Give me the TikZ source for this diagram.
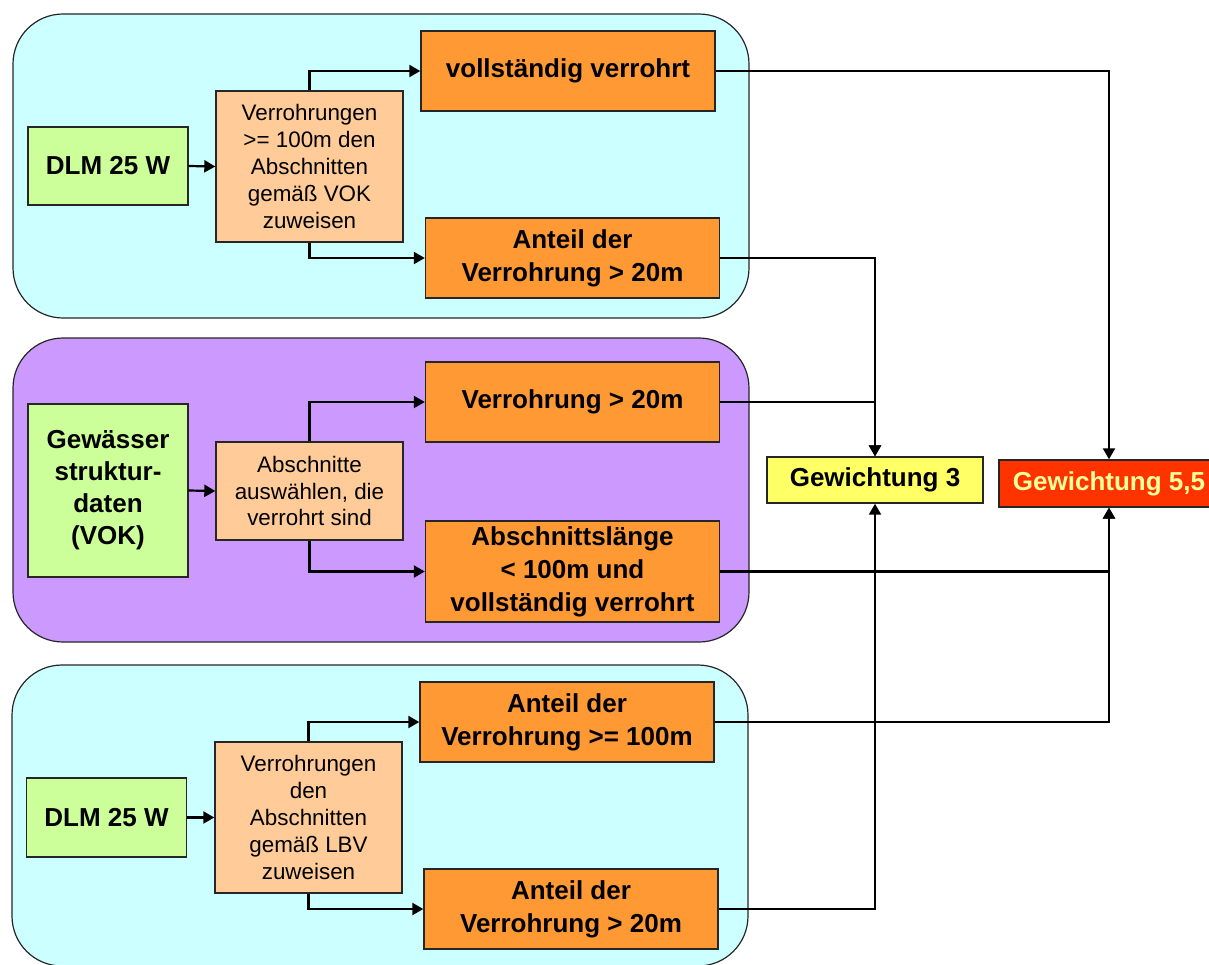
\documentclass[tikz,border=0pt]{standalone}
\usepackage{fontspec}
\setmainfont{Liberation Sans}
\usetikzlibrary{arrows.meta}
\definecolor{panelCyan}{HTML}{CCFFFF}
\definecolor{panelLila}{HTML}{CC99FF}
\definecolor{srcGreen}{HTML}{CCFF99}
\definecolor{stepPeach}{HTML}{FFCC99}
\definecolor{resOrange}{HTML}{FF9933}
\definecolor{wgtYellow}{HTML}{FFFF66}
\definecolor{wgtRed}{HTML}{FF3300}
\definecolor{wgtRedTxt}{HTML}{FFFF99}

\begin{document}
\begin{tikzpicture}[
  x=0.5pt, y=-0.5pt,
  panel/.style={draw=black!85, line width=0.6pt, rounded corners=25pt},
  src/.style={draw=black!85, fill=srcGreen, line width=0.7pt, inner sep=0pt,
              minimum width=80pt, align=center,
              font=\fontsize{13}{16}\selectfont\bfseries},
  job/.style={draw=black!85, fill=stepPeach, line width=0.7pt, inner sep=0pt,
              minimum width=93.5pt, align=center,
              font=\fontsize{11.2}{13.4}\selectfont},
  res/.style={draw=black!85, fill=resOrange, line width=0.7pt, inner sep=0pt,
              minimum width=147pt, minimum height=40pt, align=center,
              font=\fontsize{13}{16.5}\selectfont\bfseries},
  wgt/.style={draw=black!85, line width=0.7pt, inner sep=0pt,
              minimum height=23pt, font=\fontsize{13}{16}\selectfont\bfseries},
  arr/.style={-{Triangle[length=5.5pt,width=6pt]}, line width=1.1pt}
]
  \useasboundingbox (0,0) rectangle (1209,964);

  % Panels
  \draw[panel, fill=panelCyan] (13,14) rectangle (749,318);
  \draw[panel, fill=panelLila] (13,338) rectangle (749,642);
  \draw[panel, fill=panelCyan] (12,665) rectangle (748,966);

  % Panel 1: DLM 25 W / VOK
  \node[src, minimum height=39pt] (g1) at (108,166) {DLM 25 W};
  \node[job, minimum height=75.5pt] (p1) at (309.5,166.5)
    {Verrohrungen\\>= 100m den\\Abschnitten\\gemäß VOK\\zuweisen};
  \node[res] (o1) at (568,71) {vollständig verrohrt};
  \node[res] (o2) at (572.5,258) {Anteil der\\Verrohrung > 20m};

  % Panel 2: Gewaesserstrukturdaten
  \node[src, minimum height=86.5pt] (g2) at (108,490.5)
    {Gewässer\\struktur-\\daten\\(VOK)};
  \node[job, minimum height=49pt] (p2) at (309.5,491)
    {Abschnitte\\auswählen, die\\verrohrt sind};
  \node[res] (o3) at (572.5,402) {Verrohrung > 20m};
  \node[res, minimum height=50.5pt] (o4) at (572.5,571.5)
    {Abschnittslänge\\< 100m und\\vollständig verrohrt};

  % Panel 3: DLM 25 W / LBV
  \node[src, minimum height=39.5pt] (g3) at (106.5,817.5) {DLM 25 W};
  \node[job, minimum height=75.5pt] (p3) at (308.5,817.5)
    {Verrohrungen\\den\\Abschnitten\\gemäß LBV\\zuweisen};
  \node[res] (o5) at (567,722) {Anteil der\\Verrohrung >= 100m};
  \node[res] (o6) at (571,909) {Anteil der\\Verrohrung > 20m};

  % Weights
  \node[wgt, fill=wgtYellow, minimum width=108pt] (w3) at (875,480) {Gewichtung 3};
  \node[wgt, fill=wgtRed, text=wgtRedTxt, minimum width=110pt, minimum height=23.5pt]
    (w55) at (1109,483.5) {Gewichtung 5,5};

  % Arrows inside the panels
  \draw[arr] (g1.east) -- (p1.west);
  \draw[arr] (p1.north) |- (o1.west);
  \draw[arr] (p1.south) |- (o2.west);
  \draw[arr] (g2.east) -- (p2.west);
  \draw[arr] (p2.north) |- (o3.west);
  \draw[arr] (p2.south) |- (o4.west);
  \draw[arr] (g3.east) -- (p3.west);
  \draw[arr] (p3.north) |- (o5.west);
  \draw[arr] (p3.south) |- (o6.west);

  % Arrows to the weights
  \draw[arr] (o1.east) -| (w55.north);
  \draw[arr] (o2.east) -| (w3.north);
  \draw[arr] (o3.east) -| (w3.north);
  \draw[arr] (o4.east) -| (w55.south);
  \draw[arr] (o5.east) -| (w55.south);
  \draw[arr] (o6.east) -| (w3.south);
\end{tikzpicture}
\end{document}
